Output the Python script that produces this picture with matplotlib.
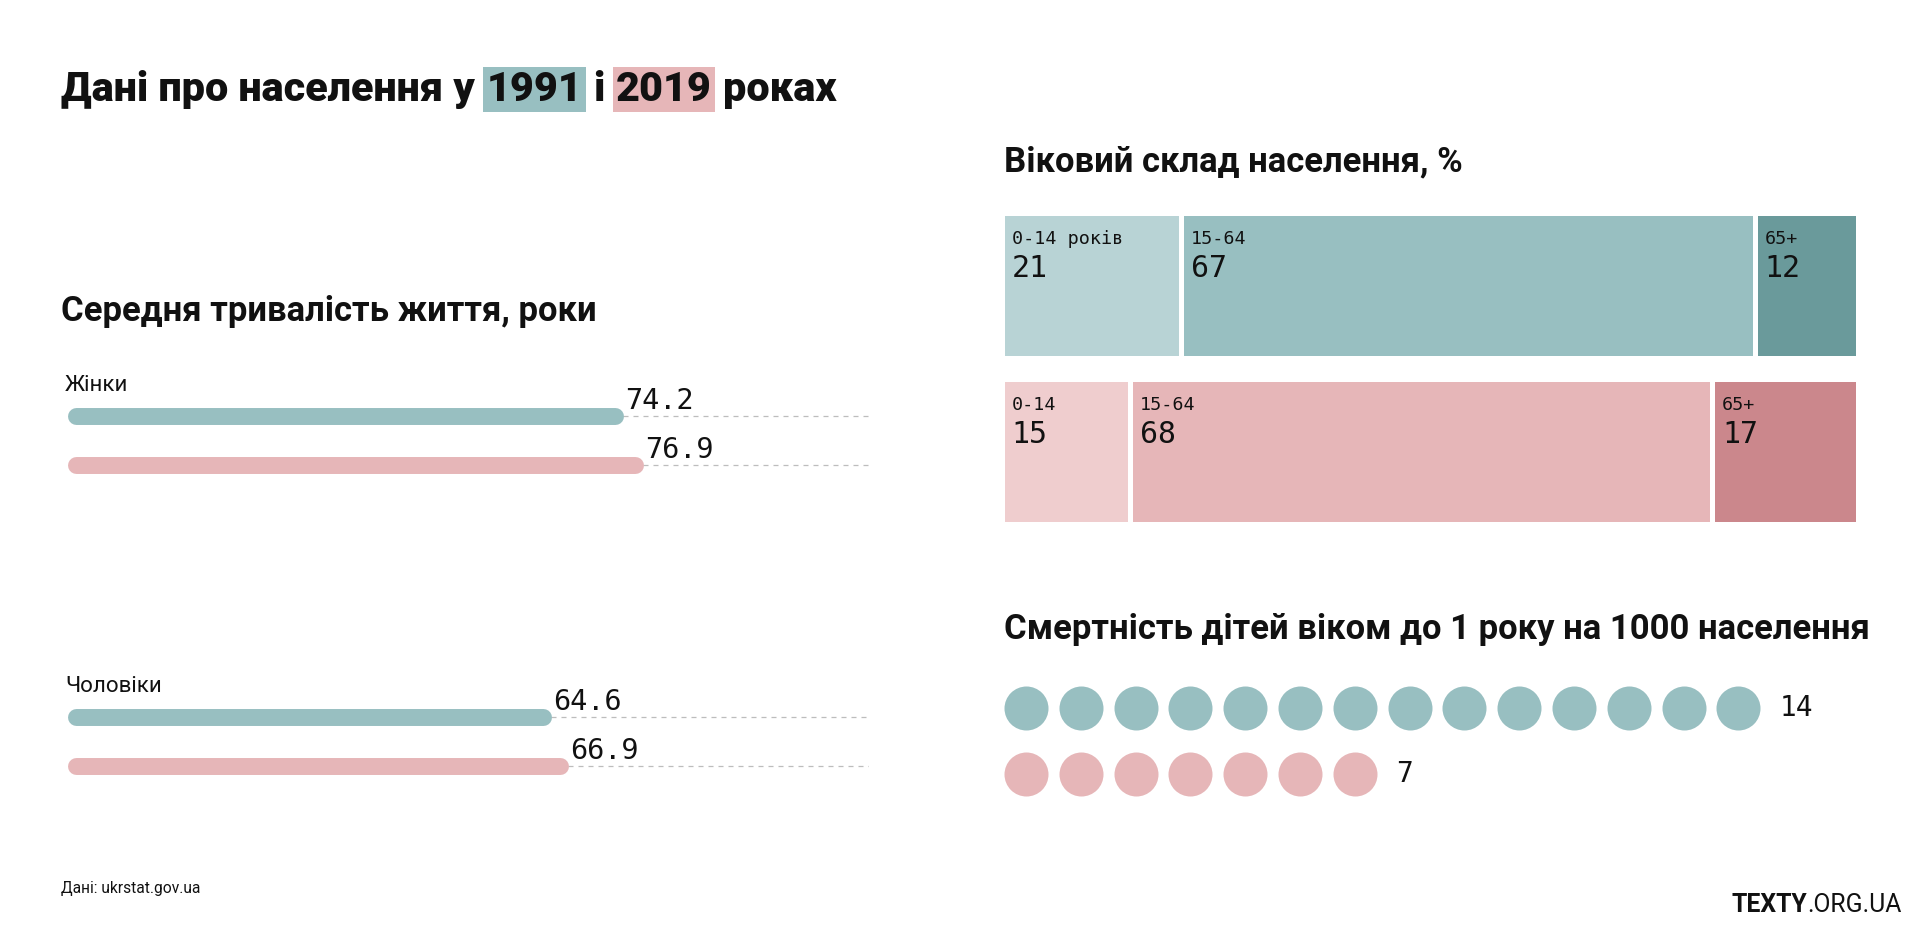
import matplotlib
matplotlib.use("Agg")
import matplotlib.pyplot as plt

plt.rcParams['font.family'] = ['Roboto', 'DejaVu Sans']

# --- data ---
years = ['1991', '2019']
sexes = ['Жінки', 'Чоловіки']
life_women = [74.2, 76.9]
life_men = [64.6, 66.9]

age_groups = ['0-14', '15-64', '65+']
age_1991 = [21, 67, 12]
age_2019 = [15, 68, 17]

infant_mortality = [14, 7]

TEAL = '#98bfc1'
PINK = '#e6b6b8'
age_colors = [['#b8d3d5', '#98bfc1', '#6a9a9b'],
              ['#efcdce', '#e6b6b8', '#cb878c']]
INK = '#111111'
MONO = ['DejaVu Sans Mono']

W, H = 1920, 940
fig = plt.figure(figsize=(W / 100, H / 100), dpi=100)


def box(left, top, right, bottom):
    # pixel box (origin top-left) -> figure fraction rect
    return [left / W, 1 - bottom / H, (right - left) / W, (bottom - top) / H]


bg = fig.add_axes([0, 0, 1, 1])
bg.set_xlim(0, W)
bg.set_ylim(H, 0)
bg.axis('off')

# --- title with highlighted years ---
TSIZE = 29.8
t = bg.text(61, 101, 'Дані про населення у', fontsize=TSIZE, weight='black',
            color=INK, va='baseline')
parts = [('1991', TEAL, 12), ('і', None, 11), ('2019', PINK, 11), ('роках', None, 11)]
for txt, hl, gap in parts:
    kw = {}
    if hl:
        kw['bbox'] = dict(boxstyle='square,pad=0.08', fc=hl, ec='none')
    t = bg.annotate(txt, xy=(1, 0), xycoords=t, xytext=(gap, 0),
                    textcoords='offset pixels', fontsize=TSIZE, weight='black',
                    color=INK, va='bottom', ha='left', **kw)

# --- section headings ---
HSIZE = 24.9
bg.text(61, 321, 'Середня тривалість життя, роки', fontsize=HSIZE, weight='bold',
        color=INK, va='baseline')
bg.text(1004, 171, 'Віковий склад населення, %', fontsize=HSIZE, weight='bold',
        color=INK, va='baseline')
bg.text(1004, 639, 'Смертність дітей віком до 1 року на 1000 населення',
        fontsize=HSIZE, weight='bold', color=INK, va='baseline')

# --- footer ---
bg.text(61, 893, 'Дані: ukrstat.gov.ua', fontsize=11.2, color=INK, va='baseline')
org = bg.text(1902, 912, '.ORG.UA', fontsize=17.8, color=INK, va='baseline', ha='right')
bg.annotate('TEXTY', xy=(0, 0), xycoords=org, fontsize=17.8, weight='bold',
            color=INK, va='bottom', ha='right')

# --- life expectancy ---
ax = fig.add_axes(box(67, 380, 869, 800))
ax.set_xlim(0, 107)
GROUP_GAP = 6.14
ax.set_ylim(7.84, -0.73)
ax.axis('off')
px_per_unit = (869 - 67) / 107
cap = 8.5 / px_per_unit
for g, (sex, vals) in enumerate(zip(sexes, [life_women, life_men])):
    y0 = g * GROUP_GAP
    ax.annotate(sex, xy=(0, y0), xytext=(-2, 30), textcoords='offset pixels',
                fontsize=16, color=INK, va='center', ha='left')
    for i, (v, c) in enumerate(zip(vals, [TEAL, PINK])):
        y = y0 + i
        ax.hlines(y, v, 107, color='#bdbdbd', lw=0.9, linestyles=(0, (4, 4)), zorder=1)
        ax.plot([cap, v - cap], [y, y], color=c, lw=12.2, solid_capstyle='round', zorder=2)
        ax.annotate(f'{v:.1f}', xy=(v, y), xytext=(2, 7), textcoords='offset pixels',
                    fontsize=20.5, family=MONO, color=INK, va='baseline', ha='left')

# --- age structure ---
ax2 = fig.add_axes(box(1001.5, 212.5, 1857.5, 522.5))
ax2.set_xlim(0, 100)
ax2.set_ylim(1 + 71.5 / 166, -(72.5 / 166))
ax2.axis('off')
row_h = 145 / 166
for r, vals in enumerate([age_1991, age_2019]):
    left = 0
    for k, v in enumerate(vals):
        ax2.barh(r, v, left=left, height=row_h, color=age_colors[r][k],
                 edgecolor='white', linewidth=3.6)
        lab = age_groups[k]
        if r == 0 and k == 0:
            lab = lab + ' років'
        top = r - row_h / 2
        ax2.annotate(lab, xy=(left, top), xytext=(10, -26), textcoords='offset pixels',
                     fontsize=13.2, family=MONO, color=INK, va='center', ha='left')
        ax2.annotate(str(v), xy=(left, top), xytext=(10, -56), textcoords='offset pixels',
                     fontsize=21.5, family=MONO, color=INK, va='center', ha='left')
        left += v

# --- infant mortality dots ---
ax3 = fig.add_axes(box(1004, 670, 1855, 810))
step = 54.8
ax3.set_xlim(-22 / step, (851 - 22) / step)
ax3.set_ylim(1 + 36 / 66, -38 / 66)
ax3.axis('off')
for r, (n, c) in enumerate(zip(infant_mortality, [TEAL, PINK])):
    xs = list(range(n))
    ax3.scatter(xs, [r] * n, s=1004, color=c, linewidths=0)
    ax3.annotate(str(n), xy=(n - 1, r), xytext=(41, 0), textcoords='offset pixels',
                 fontsize=20, family=MONO, color=INK, va='center', ha='left')

fig.savefig('out.png', dpi=100, facecolor='white')
